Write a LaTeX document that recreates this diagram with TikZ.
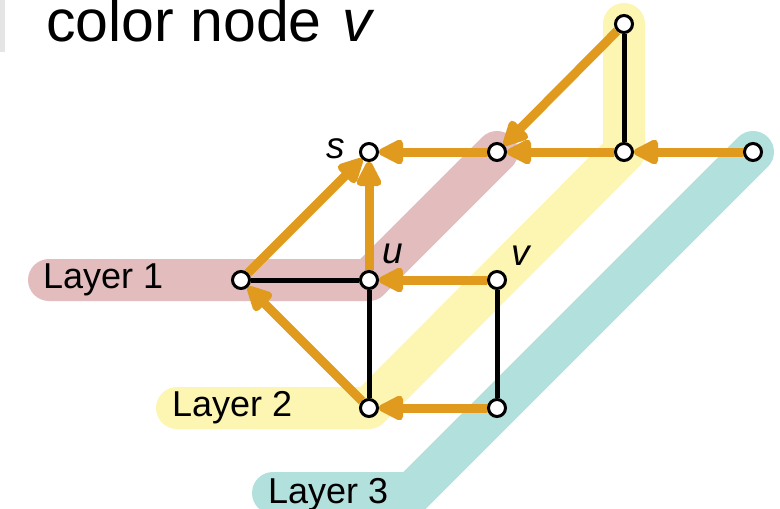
\documentclass[tikz,border=0pt]{standalone}
\usepackage{fontspec}
\setmainfont{Liberation Sans}
\usetikzlibrary{arrows.meta,backgrounds}
\definecolor{bandred}{RGB}{227,189,190}
\definecolor{bandyel}{RGB}{253,246,178}
\definecolor{bandteal}{RGB}{178,224,220}
\definecolor{edgeor}{RGB}{224,155,30}
\definecolor{bargray}{RGB}{229,229,229}
\tikzset{
  vert/.style={circle,draw=black,fill=white,line width=3pt,minimum size=17pt,inner sep=0pt},
  band/.style={line width=42pt,line cap=round,line join=round},
  oedge/.style={draw=edgeor,line width=9pt,-{Triangle[length=29pt,width=27pt,round]}},
  bedge/.style={draw=black,line width=5pt},
  lab/.style={font=\fontsize{36}{40}\selectfont,inner sep=0pt},
  vlab/.style={font=\fontsize{37}{40}\selectfont\itshape,inner sep=0pt}
}
\begin{document}
\begin{tikzpicture}[x=1pt,y=-1pt]
\useasboundingbox (0,0) rectangle (780,509);
\fill[bargray] (0,0) rectangle (5,52);
\node[anchor=base west,inner sep=0pt,font=\fontsize{59}{62}\selectfont] (title) at (46,41) {color node\hspace{4pt} \textit{v}};

\node[vert] (t) at (624,24) {};
\node[vert] (s) at (369,152) {};
\node[vert] (a) at (497,152) {};
\node[vert] (b) at (624,152) {};
\node[vert] (c) at (753,152) {};
\node[vert] (l) at (241,280) {};
\node[vert] (u) at (369,280) {};
\node[vert] (v) at (497,280) {};
\node[vert] (d) at (369,408) {};
\node[vert] (e) at (497,408) {};

\node[vlab] (sl) at (336,149) {s};
\node[vlab] (ul) at (393,254) {u};
\node[vlab] (vl) at (521,256) {v};

\begin{scope}[on background layer]
\draw[band,bandteal] (273,493) -- (412,493) -- (753,152);
\draw[band,bandyel] (177,408) -- (369,408) -- (624,152) -- (624,24);
\draw[band,bandred] (49,280) -- (369,280) -- (497,152);
\draw[bedge] (l) -- (u);
\draw[bedge] (u) -- (d);
\draw[bedge] (v) -- (e);
\draw[bedge] (t) -- (b);
\draw[oedge] (t) -- (a);
\draw[oedge] (a) -- (s);
\draw[oedge] (b) -- (a);
\draw[oedge] (c) -- (b);
\draw[oedge] (l) -- (s);
\draw[oedge] (u) -- (s);
\draw[oedge] (v) -- (u);
\draw[oedge] (d) -- (l);
\draw[oedge] (e) -- (d);
\end{scope}

\node[lab,anchor=west] (L1) at (43,280) {Layer 1};
\node[lab,anchor=west] (L2) at (172,408) {Layer 2};
\node[lab,anchor=west] (L3) at (268,495) {Layer 3};
\end{tikzpicture}
\end{document}
